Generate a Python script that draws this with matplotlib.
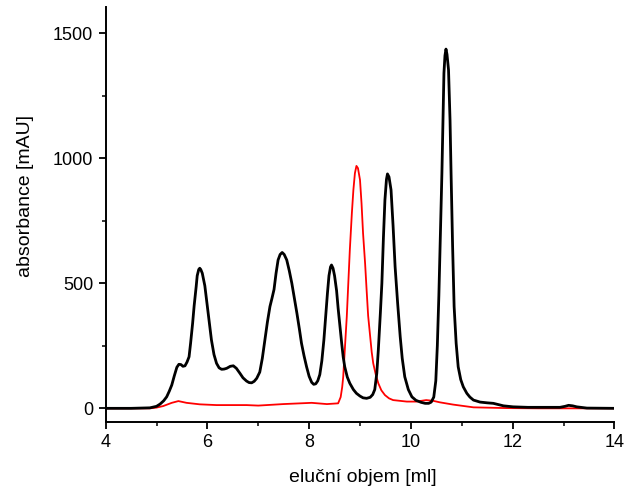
import matplotlib
matplotlib.use("Agg")
import matplotlib.pyplot as plt
from matplotlib.ticker import MultipleLocator

plt.rcParams['font.family'] = ['Liberation Sans', 'DejaVu Sans']

# black trace
black_x = [4.0, 4.5, 4.87, 5.0, 5.07, 5.14, 5.2, 5.25, 5.3, 5.35, 5.4, 5.44, 5.48, 5.52,
           5.56, 5.6, 5.64, 5.67, 5.71, 5.74, 5.78, 5.8, 5.83, 5.85, 5.87, 5.9,
           5.95, 6.0, 6.04, 6.08, 6.13, 6.18, 6.23, 6.28, 6.33, 6.38, 6.45, 6.51,
           6.57, 6.64, 6.7, 6.77, 6.82, 6.87, 6.92, 6.97, 7.03, 7.08, 7.13, 7.18,
           7.23, 7.27, 7.31, 7.35, 7.39, 7.43, 7.47, 7.51, 7.56, 7.61, 7.66, 7.71,
           7.76, 7.81, 7.85, 7.9, 7.95, 8.0, 8.05, 8.09, 8.13, 8.17, 8.21, 8.25,
           8.29, 8.33, 8.36, 8.39, 8.42, 8.44, 8.47, 8.5, 8.54, 8.57, 8.61, 8.64,
           8.67, 8.7, 8.75, 8.8, 8.87, 8.93, 9.0, 9.06, 9.13, 9.2, 9.25, 9.29,
           9.33, 9.36, 9.4, 9.43, 9.46, 9.49, 9.52, 9.54, 9.57, 9.61, 9.65, 9.69,
           9.74, 9.79, 9.83, 9.88, 9.95, 10.02, 10.1, 10.2, 10.28, 10.35, 10.4,
           10.45, 10.49, 10.52, 10.55, 10.58, 10.61, 10.63, 10.65, 10.67, 10.69,
           10.71, 10.74, 10.77, 10.79, 10.82, 10.85, 10.89, 10.93, 10.98, 11.03,
           11.1, 11.16, 11.23, 11.36, 11.5, 11.62, 11.72, 11.82, 12.01, 12.3,
           12.54, 12.93, 13.03, 13.1, 13.18, 13.26, 13.46, 14.0]
black_y = [0, 0, 2, 8, 17, 30, 46, 68, 93, 130, 164, 176, 175, 168,
           170, 185, 206, 260, 340, 410, 487, 530, 555, 560, 555, 540,
           490, 407, 340, 273, 215, 180, 162, 156, 157, 160, 168, 170,
           160, 140, 122, 109, 103, 102, 108, 120, 145, 200, 273, 345,
           407, 440, 475, 540, 593, 615, 623, 615, 593, 550, 500, 440,
           380, 315, 260, 210, 166, 128, 104, 96, 98, 110, 135, 190,
           273, 380, 460, 530, 565, 573, 560, 530, 470, 400, 320, 260,
           205, 166, 125, 100, 75, 60, 49, 42, 40, 44, 55, 75,
           140, 233, 380, 500, 680, 833, 915, 937, 925, 873, 730, 566,
           420, 287, 200, 126, 75, 46, 32, 24, 20, 20, 25,
           45, 110, 250, 450, 700, 940, 1150, 1340, 1410, 1436,
           1415, 1353, 1150, 940, 650, 407, 260, 166, 115, 86,
           60, 45, 33, 25, 22, 20, 15, 10, 6, 4,
           4, 4, 8, 12, 10, 6, 1, 0]

# red trace
red_x = [4.0, 4.5, 4.87, 5.0, 5.13, 5.3, 5.43, 5.59, 5.85, 6.18, 6.77, 7.0, 7.49,
         8.05, 8.35, 8.57, 8.62, 8.65, 8.67, 8.7, 8.74, 8.77, 8.8, 8.84, 8.87,
         8.9, 8.93, 8.96, 9.0, 9.03, 9.06, 9.1, 9.13, 9.16, 9.2, 9.23, 9.26,
         9.31, 9.36, 9.42, 9.49, 9.57, 9.65, 9.92, 10.11, 10.3, 10.44, 10.57,
         10.83, 11.23, 11.88, 12.5, 13.0, 13.5, 14.0]
red_y = [0, 0, 0, 3, 9, 22, 29, 22, 16, 13, 13, 11, 17,
         22, 17, 20, 45, 85, 126, 230, 366, 500, 633, 780, 873,
         940, 969, 960, 913, 820, 700, 580, 473, 370, 287, 225, 180,
         135, 100, 72, 53, 40, 33, 27, 27, 33, 30, 24,
         15, 4, 1, 0, 0, 0, 0]

fig = plt.figure(figsize=(6.25, 4.86), dpi=100)
ax = fig.add_axes([0.169, 0.132, 0.814, 0.854])

ax.plot(red_x, red_y, color='#ff0000', linewidth=1.3, solid_joinstyle='round')
ax.plot(black_x, black_y, color='black', linewidth=2.0, solid_joinstyle='round')

ax.set_xlim(4, 14)
ax.set_ylim(-54, 1605)
ax.xaxis.set_major_locator(MultipleLocator(2))
ax.xaxis.set_minor_locator(MultipleLocator(1))
ax.yaxis.set_major_locator(MultipleLocator(500))
ax.yaxis.set_minor_locator(MultipleLocator(250))

for s in ['top', 'right']:
    ax.spines[s].set_visible(False)
for s in ['left', 'bottom']:
    ax.spines[s].set_linewidth(1.4)

ax.tick_params(which='major', direction='out', length=5, width=1.3, labelsize=13, pad=4)
ax.tick_params(which='minor', direction='out', length=3, width=1.1)

ax.set_xlabel("eluční objem [ml]", fontsize=14)
ax.set_ylabel("absorbance [mAU]", fontsize=14)
ax.xaxis.set_label_coords(0.506, -0.114)
ax.yaxis.set_label_coords(-0.141, 0.544)

fig.savefig("out.png", dpi=100)
